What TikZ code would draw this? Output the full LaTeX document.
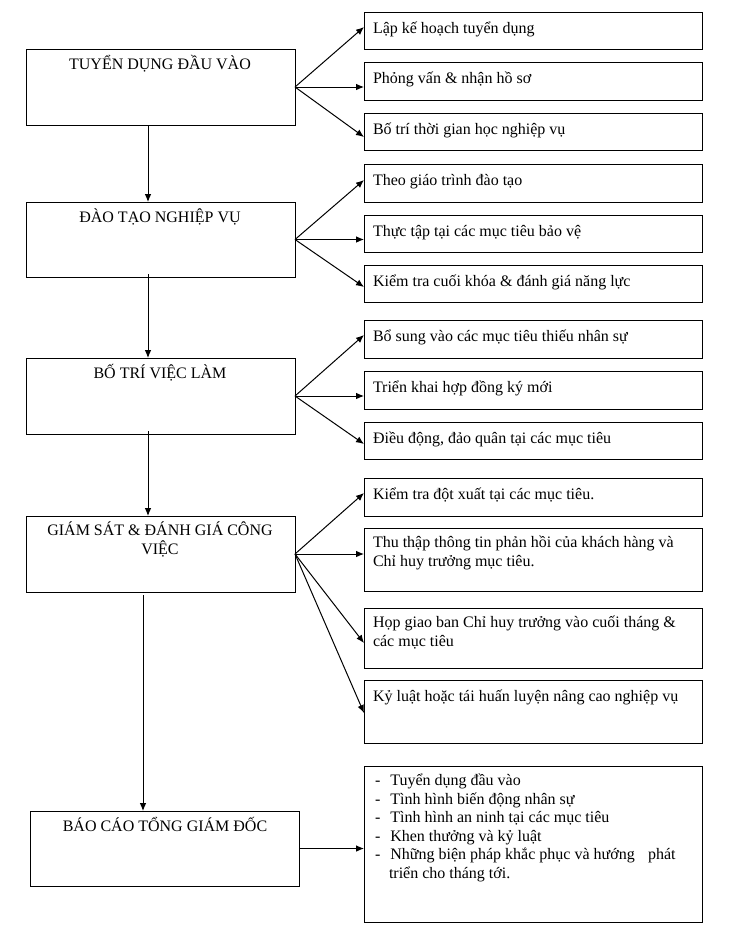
\documentclass[tikz,border=0pt]{standalone}
\usepackage{fontspec}
\setmainfont{Liberation Serif}
\usetikzlibrary{arrows.meta,calc}
\begin{document}
\begin{tikzpicture}[x=0.75pt,y=-0.75pt,
  box/.style 2 args={draw,line width=0.75pt,inner sep=0pt,outer sep=0pt,anchor=north west,
     minimum width=#1*0.75pt,minimum height=#2*0.75pt},
  txt/.style={font=\fontsize{12pt}{13.9pt}\selectfont,inner sep=0pt,outer sep=0pt},
  ctxt/.style={txt,anchor=base,align=center},
  ltxt/.style={txt,anchor=base west,align=left},
  arr/.style={line width=0.75pt,-{Latex[length=6pt,width=5pt]}}]
\useasboundingbox (0,0) rectangle (733,939);
% left boxes
\node[box={269}{76}] (b1) at (26,49) {};
\node[box={269}{75}] (b2) at (26,202) {};
\node[box={269}{76}] (b3) at (26,358) {};
\node[box={269}{76}] (b4) at (26,516) {};
\node[box={269}{75}] (b5) at (30,811) {};
\node[ctxt] (t1) at (160,69) {TUYỂN DỤNG ĐẦU VÀO};
\node[ctxt] (t2) at (160,222) {ĐÀO TẠO NGHIỆP VỤ};
\node[ctxt] (t3) at (160,378) {BỐ TRÍ VIỆC LÀM};
\node[ctxt] (t4) at (160,554.5) {GIÁM SÁT \& ĐÁNH GIÁ CÔNG\\VIỆC};
\node[ctxt] (t5) at (165,831) {BÁO CÁO TỔNG GIÁM ĐỐC};
% right boxes
\node[box={338}{37}] (r1) at (364,12) {};
\node[box={338}{38}] (r2) at (364,62) {};
\node[box={338}{37}] (r3) at (364,113) {};
\node[box={338}{38}] (r4) at (364,164) {};
\node[box={338}{37}] (r5) at (364,215) {};
\node[box={338}{37}] (r6) at (364,265) {};
\node[box={338}{38}] (r7) at (364,320) {};
\node[box={338}{38}] (r8) at (364,371) {};
\node[box={338}{37}] (r9) at (364,422) {};
\node[box={338}{38}] (r10) at (364,478) {};
\node[box={338}{63}] (r11) at (364,528) {};
\node[box={338}{60}] (r12) at (364,608) {};
\node[box={338}{63}] (r13) at (364,680) {};
\node[box={338}{156}] (r14) at (364,766) {};
\node[ltxt] (s1) at (373,33) {Lập kế hoạch tuyển dụng};
\node[ltxt] (s2) at (373,83) {Phỏng vấn \& nhận hồ sơ};
\node[ltxt] (s3) at (373,134) {Bố trí thời gian học nghiệp vụ};
\node[ltxt] (s4) at (373,185) {Theo giáo trình đào tạo};
\node[ltxt] (s5) at (373,236) {Thực tập tại các mục tiêu bảo vệ};
\node[ltxt] (s6) at (373,286) {Kiểm tra cuối khóa \& đánh giá năng lực};
\node[ltxt] (s7) at (373,341) {Bổ sung vào các mục tiêu thiếu nhân sự};
\node[ltxt] (s8) at (373,392) {Triển khai hợp đồng ký mới};
\node[ltxt] (s9) at (373,443) {Điều động, đảo quân tại các mục tiêu};
\node[ltxt] (s10) at (373,499) {Kiểm tra đột xuất tại các mục tiêu.};
\node[ltxt] (s11) at (373,566.5) {Thu thập thông tin phản hồi của khách hàng và\\Chỉ huy trưởng mục tiêu.};
\node[ltxt] (s12) at (373,646.5) {Họp giao ban Chỉ huy trưởng vào cuối tháng \&\\các mục tiêu};
\node[ltxt] (s13) at (373,701) {Kỷ luật hoặc tái huấn luyện nâng cao nghiệp vụ};
\node[ltxt] (s14) at (375,878.5) {-\hspace{7.5pt}Tuyển dụng đầu vào\\
-\hspace{7.5pt}Tình hình biến động nhân sự\\
-\hspace{7.5pt}Tình hình an ninh tại các mục tiêu\\
-\hspace{7.5pt}Khen thưởng và kỷ luật\\
-\hspace{7.5pt}Những biện pháp khắc phục và hướng\hspace{10pt}phát\\
\hspace{10.5pt}triển cho tháng tới.};
% fan arrows
\draw[arr] (b1.east) -- ($(r1.west)+(0,-3.5)$);
\draw[arr] (b1.east) -- (r2.west |- b1.east);
\draw[arr] (b1.east) -- ($(r3.west)+(0,5.5)$);
\draw[arr] (b2.east) -- ($(r4.west)+(0,-3)$);
\draw[arr] (b2.east) -- (r5.west |- b2.east);
\draw[arr] (b2.east) -- ($(r6.west)+(0,3.5)$);
\draw[arr] (b3.east) -- ($(r7.west)+(0,-4)$);
\draw[arr] (b3.east) -- (r8.west |- b3.east);
\draw[arr] (b3.east) -- ($(r9.west)+(0,3.5)$);
\draw[arr] (b4.east) -- ($(r10.west)+(0,-4)$);
\draw[arr] (b4.east) -- (r11.west |- b4.east);
\draw[arr] (b4.east) -- ($(r12.west)+(0,5)$);
\draw[arr] (b4.east) -- ($(r13.west)+(0,1.5)$);
\draw[arr] (b5.east) -- (r14.west |- b5.east);
% vertical arrows
\draw[arr] ($(b1.south)+(-12.5,0)$) -- ($(b2.north)+(-12.5,0)$);
\draw[arr] ($(b2.south)+(-12.5,-3)$) -- ($(b3.north)+(-12.5,0)$);
\draw[arr] ($(b3.south)+(-12.5,-3)$) -- ($(b4.north)+(-12.5,0)$);
\draw[arr] ($(b4.south)+(-17.5,3)$) -- ($(b5.north)+(-21.5,0)$);
\end{tikzpicture}
\end{document}
